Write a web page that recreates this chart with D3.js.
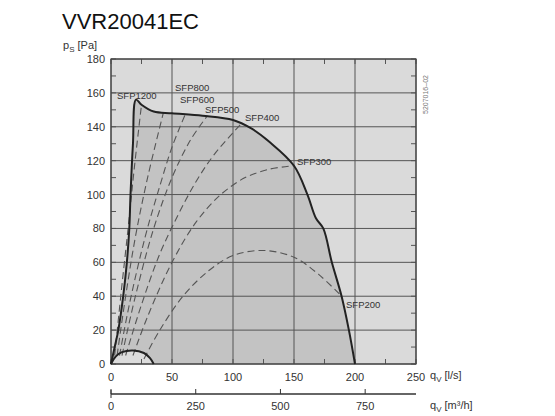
<!DOCTYPE html><html><head><meta charset="utf-8"><script src="https://cdn.jsdelivr.net/npm/d3@7"></script>
<style>body{margin:0;background:#fff}text{font-family:"Liberation Sans",Arial,sans-serif}</style></head><body><svg id="c" width="555" height="416"></svg>
<script>
const xTicks=[0,50,100,150,200,250];
const yTicks=[0,20,40,60,80,100,120,140,160,180];
const m3hTicks=[0,250,500,750];
const maxCurve=[[0,0],[3,10],[6,20],[10,40],[13,60],[15,80],[16,100],[18,130],[20.5,156],[25,153],[35,149],[50,148],[75,146.5],[100,144],[115,139],[130,131],[150,117],[161,100],[168,86],[174,80],[181,60],[189,40],[195,20],[200,0]];
const minCurve=[[0,0],[4,4.5],[9,7],[18,8],[27,6.5],[32,3.5],[35,0]];
const sfpNames=["SFP1200","SFP800","SFP600","SFP500","SFP400","SFP300","SFP200"];
const sfpCurves=[
 [[3,5],[8,40],[14,80],[19,115],[25,153]],
 [[5,5],[12,40],[20,75],[30,110],[43,148.5]],
 [[7,5],[15,35],[28,75],[40,105],[50,128],[61,147.5]],
 [[9,5],[20,40],[35,80],[50,110],[65,132],[79,146.5]],
 [[12,5],[25,35],[40,65],[55,88],[70,108],[85,124],[107,142]],
 [[18,5],[30,28],[50,60],[70,84],[90,100],[110,110],[130,115],[150,117]],
 [[27,3],[40,20],[59,40],[80,55],[100,64],[125,67],[150,63],[170,53],[189,40]]];
const labelPos=[[117,99],[175,91],[180,103],[205,113],[245,121],[297,165],[346,308]];
const svg=d3.select("#c");
const x=d3.scaleLinear().domain([0,250]).range([111,416]);
const y=d3.scaleLinear().domain([0,180]).range([364,59]);
const xm=d3.scaleLinear().domain([0,250*3.6]).range([111,416]);
svg.append("rect").attr("x",111).attr("y",59).attr("width",305).attr("height",305).attr("fill","#dadada");
const line=d3.line().x(d=>x(d[0])).y(d=>y(d[1])).curve(d3.curveMonotoneX);
const lineC=d3.line().x(d=>x(d[0])).y(d=>y(d[1])).curve(d3.curveCatmullRom);
svg.append("path").attr("d",lineC(maxCurve)+"Z").attr("fill","#c3c3c3");
svg.append("path").attr("d",lineC(minCurve)+"Z").attr("fill","#dcdcdc");
// minor ticks
const g=svg.append("g");
d3.range(0,251,25).forEach(v=>{[364,59].forEach((yy,i)=>g.append("line").attr("x1",x(v)).attr("x2",x(v)).attr("y1",yy).attr("y2",yy+(i?5:-5)).attr("stroke","#555"));});
d3.range(0,181,10).forEach(v=>{[111,416].forEach((xx,i)=>g.append("line").attr("x1",xx).attr("x2",xx+(i?-5:5)).attr("y1",y(v)).attr("y2",y(v)).attr("stroke","#555"));});
xTicks.forEach(v=>g.append("line").attr("x1",x(v)).attr("x2",x(v)).attr("y1",59).attr("y2",364).attr("stroke","#555").attr("stroke-width",1));
yTicks.forEach(v=>g.append("line").attr("x1",111).attr("x2",416).attr("y1",y(v)).attr("y2",y(v)).attr("stroke","#555").attr("stroke-width",1));
svg.append("rect").attr("x",111).attr("y",59).attr("width",305).attr("height",305).attr("fill","none").attr("stroke","#444").attr("stroke-width",1.2);
sfpCurves.forEach(c=>svg.append("path").attr("d",lineC(c)).attr("fill","none").attr("stroke","#555").attr("stroke-width",1.1).attr("stroke-dasharray","7,4"));
svg.append("path").attr("d",lineC(maxCurve)).attr("fill","none").attr("stroke","#222").attr("stroke-width",2);
svg.append("path").attr("d",lineC(minCurve)).attr("fill","none").attr("stroke","#222").attr("stroke-width",2);
sfpNames.forEach((n,i)=>svg.append("text").attr("x",labelPos[i][0]).attr("y",labelPos[i][1]).attr("font-size",9.5).attr("fill","#333").text(n));
xTicks.forEach(v=>svg.append("text").attr("x",x(v)).attr("y",381).attr("text-anchor","middle").attr("font-size",11).attr("fill","#333").text(v));
yTicks.forEach(v=>svg.append("text").attr("x",105).attr("y",y(v)+4).attr("text-anchor","end").attr("font-size",11).attr("fill","#333").text(v));
// m3/h axis
svg.append("line").attr("x1",111).attr("x2",416).attr("y1",394).attr("y2",394).attr("stroke","#333").attr("stroke-width",1.5);
svg.append("line").attr("x1",111).attr("x2",111).attr("y1",390).attr("y2",398).attr("stroke","#333");
m3hTicks.forEach(v=>{svg.append("line").attr("x1",xm(v)).attr("x2",xm(v)).attr("y1",389).attr("y2",394).attr("stroke","#333");
 svg.append("text").attr("x",xm(v)).attr("y",410).attr("text-anchor","middle").attr("font-size",11).attr("fill","#333").text(v);});
svg.append("text").attr("x",62).attr("y",29).attr("font-size",22).attr("fill","#111").attr("font-family","Open Sans").text("VVR20041EC");
const t1=svg.append("text").attr("x",63).attr("y",49).attr("font-size",11).attr("fill","#333");
t1.append("tspan").text("p");t1.append("tspan").attr("font-size",8).attr("dy",3).text("S");t1.append("tspan").attr("dy",-3).text(" [Pa]");
const t2=svg.append("text").attr("x",430).attr("y",379).attr("font-size",11).attr("fill","#333");
t2.append("tspan").text("q");t2.append("tspan").attr("font-size",8).attr("dy",3).text("V");t2.append("tspan").attr("dy",-3).text(" [l/s]");
const t3=svg.append("text").attr("x",430).attr("y",409).attr("font-size",11).attr("fill","#333");
t3.append("tspan").text("q");t3.append("tspan").attr("font-size",8).attr("dy",3).text("V");t3.append("tspan").attr("dy",-3).text(" [m³/h]");
svg.append("text").attr("transform","translate(428,114) rotate(-90)").attr("font-size",7).attr("fill","#777").text("5207016–02");
</script></body></html>
